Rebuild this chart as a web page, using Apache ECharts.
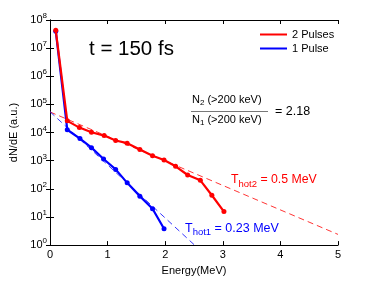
<!DOCTYPE html>
<html><head><meta charset="utf-8">
<script src="https://cdn.jsdelivr.net/npm/echarts@6/dist/echarts.min.js"></script>
<style>html,body{margin:0;padding:0;background:#fff}#c{width:374px;height:281px}</style>
</head><body><div id="c"></div>
<script>
// Energy (MeV) and dN/dE values
const energy2 = [0.1, 0.3, 0.51, 0.72, 0.94, 1.14, 1.34, 1.56, 1.78, 1.98, 2.18, 2.39, 2.61, 2.81, 3.02];
const pulses2 = [4.3e7, 2.6e4, 1.5e4, 1.02e4, 7.8e3, 5.2e3, 4.2e3, 2.5e3, 1.5e3, 1.05e3, 630, 310, 200, 59, 15.5];
const energy1 = [0.1, 0.3, 0.52, 0.72, 0.93, 1.14, 1.34, 1.56, 1.78, 1.98];
const pulses1 = [4.0e7, 1.26e4, 6.1e3, 2.9e3, 1.15e3, 490, 163, 55, 19.7, 3.8];
// fit-line endpoints
const fit2E = [0, 5];
const fit2V = [5.4e4, 2.4];
const fit1E = [0, 2.51];
const fit1V = [5.5e4, 1];
const xTicks = [0, 1, 2, 3, 4, 5];
const yExps = [0, 1, 2, 3, 4, 5, 6, 7, 8];

const zip = (a, b) => a.map((v, i) => [v, b[i]]);
const FONT = 'Liberation Sans, Arial, sans-serif';
const chart = echarts.init(document.getElementById('c'), null, {renderer: 'canvas'});
const axLine = {lineStyle: {color: '#000', width: 1}};
chart.setOption({
  animation: false,
  textStyle: {fontFamily: FONT},
  grid: {left: 49, right: 36, top: 20, bottom: 32},
  legend: {
    orient: 'vertical', left: 255, top: 24, itemWidth: 27, itemHeight: 2, itemGap: 3,
    icon: 'rect', textStyle: {fontSize: 11, color: '#000', fontFamily: FONT},
    data: ['2 Pulses', '1 Pulse']
  },
  xAxis: [{
    type: 'value', min: xTicks[0], max: xTicks[xTicks.length - 1], interval: 1,
    name: 'Energy(MeV)', nameLocation: 'middle', nameGap: 18,
    nameTextStyle: {fontSize: 11, color: '#000', fontFamily: FONT},
    axisLine: axLine, axisTick: {inside: true, length: 4, lineStyle: {color: '#000'}},
    axisLabel: {fontSize: 11, color: '#000', margin: 4, fontFamily: FONT},
    splitLine: {show: false}
  }, {
    type: 'value', position: 'top', min: 0, max: 5, interval: 1,
    axisLine: axLine, axisTick: {inside: true, length: 4, lineStyle: {color: '#000'}},
    axisLabel: {show: false}, splitLine: {show: false}
  }],
  yAxis: [{
    type: 'log', logBase: 10, min: 1, max: 1e8, interval: 1,
    name: 'dN/dE (a.u.)', nameLocation: 'middle', nameGap: 31,
    nameTextStyle: {fontSize: 11, color: '#000', fontFamily: FONT},
    axisLine: axLine, axisTick: {inside: true, length: 4, lineStyle: {color: '#000'}},
    minorTick: {show: false},
    axisLabel: {
      margin: 3, color: '#000',
      formatter: v => '{b|10}{s|' + Math.round(Math.log10(v)) + '}',
      rich: {
        b: {fontSize: 11, fontFamily: FONT, color: '#000'},
        s: {fontSize: 8, fontFamily: FONT, color: '#000', padding: [0, 0, 8, 0]}
      }
    },
    splitLine: {show: false}
  }, {
    type: 'log', logBase: 10, min: 1, max: 1e8, interval: 1, position: 'right',
    axisLine: axLine, axisTick: {inside: true, length: 4, lineStyle: {color: '#000'}},
    axisLabel: {show: false}, splitLine: {show: false}
  }],
  series: [
    {name: 'fit2', type: 'line', data: zip(fit2E, fit2V), symbol: 'none', silent: true,
     lineStyle: {color: '#ff0000', width: 0.8, type: [6, 4]}, z: 1},
    {name: 'fit1', type: 'line', data: zip(fit1E, fit1V), symbol: 'none', silent: true,
     lineStyle: {color: '#0000ff', width: 0.8, type: [6, 4]}, z: 1},
    {name: '1 Pulse', type: 'line', data: zip(energy1, pulses1), color: '#0000ff',
     symbol: 'circle', symbolSize: 5, lineStyle: {width: 2.2, color: '#0000ff'},
     itemStyle: {color: '#0000ff'}, z: 2},
    {name: '2 Pulses', type: 'line', data: zip(energy2, pulses2), color: '#ff0000',
     symbol: 'circle', symbolSize: 5, lineStyle: {width: 2.2, color: '#ff0000'},
     itemStyle: {color: '#ff0000'}, z: 3}
  ],
  graphic: [
    {type: 'text', left: 89, top: 39, style: {text: 't = 150 fs', fontSize: 20.5, fontFamily: FONT, fill: '#000'}},
    {type: 'text', left: 192, top: 94, style: {
      text: 'N{sub|2} (>200 keV)', fontSize: 11, fontFamily: FONT, fill: '#000',
      rich: {sub: {fontSize: 8, fontFamily: FONT, padding: [6, 0, 0, 0]}}}},
    {type: 'line', shape: {x1: 191, y1: 111.5, x2: 268, y2: 111.5}, style: {stroke: '#555', lineWidth: 0.8}},
    {type: 'text', left: 192, top: 114, style: {
      text: 'N{sub|1} (>200 keV)', fontSize: 11, fontFamily: FONT, fill: '#000',
      rich: {sub: {fontSize: 8, fontFamily: FONT, padding: [6, 0, 0, 0]}}}},
    {type: 'text', left: 275, top: 105, style: {text: '= 2.18', fontSize: 12.5, fontFamily: FONT, fill: '#000'}},
    {type: 'text', left: 231, top: 174, style: {
      text: 'T{sub|hot2} = 0.5 MeV', fontSize: 12.3, fontFamily: FONT, fill: '#ff0000',
      rich: {sub: {fontSize: 9.5, fontFamily: FONT, fill: '#ff0000', padding: [8, 0, 0, 0]}}}},
    {type: 'text', left: 185, top: 222, style: {
      text: 'T{sub|hot1} = 0.23 MeV', fontSize: 12.5, fontFamily: FONT, fill: '#0000ff',
      rich: {sub: {fontSize: 9.5, fontFamily: FONT, fill: '#0000ff', padding: [8, 0, 0, 0]}}}}
  ]
});
</script></body></html>
